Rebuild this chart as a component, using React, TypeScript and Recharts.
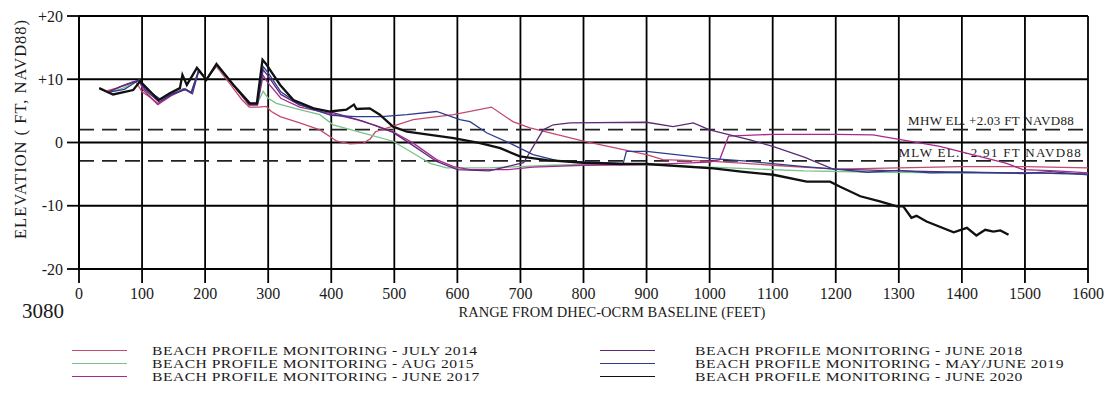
import { LineChart, Line, XAxis, YAxis, ReferenceLine } from 'recharts'

type Pt = [number, number]

// range (ft) / elevation (ft NAVD88) pairs
const july2014: Pt[] = [
  [45, 8.2], [60, 8.6], [75, 9.2], [90, 9.6], [100, 8.0], [112, 7.2], [125, 6.2], [140, 7.2], [155, 7.9],
  [165, 8.5], [178, 7.9], [190, 11.4], [202, 10.0], [218, 12.0], [240, 9.2], [258, 6.8], [270, 5.6],
  [285, 5.6], [297, 5.7], [305, 4.9], [319, 4.1], [350, 3.1], [382, 2.0], [409, 0.2], [430, -0.2],
  [451, -0.1], [462, 0.6], [470, 1.7], [504, 2.8], [530, 3.6], [594, 4.4], [654, 5.6], [688, 3.3],
  [715, 2.3], [800, 0.2], [900, -1.9], [926, -2.7], [1006, -3.0], [1100, -3.6], [1200, -4.2],
  [1300, -4.0], [1400, -3.8], [1500, -3.8], [1600, -4.0],
]
const aug2015: Pt[] = [
  [50, 8.0], [70, 8.6], [92, 9.8], [100, 9.0], [110, 7.8], [128, 6.6], [150, 7.8], [165, 8.4], [178, 8.0],
  [190, 11.4], [202, 10.0], [218, 12.1], [245, 9.0], [268, 6.2], [282, 6.0], [292, 8.1], [300, 7.0],
  [313, 6.2], [350, 5.2], [382, 4.4], [403, 2.8], [451, 1.5], [498, 0.2], [530, -1.7], [557, -3.3],
  [583, -4.0], [650, -4.0], [750, -3.6], [850, -3.3], [950, -3.7], [1050, -4.1], [1150, -4.5],
  [1270, -4.7], [1400, -4.8], [1500, -4.8], [1600, -5.0],
]
const june2017: Pt[] = [
  [45, 7.9], [65, 8.8], [85, 9.6], [95, 9.8], [102, 8.3], [125, 6.0], [148, 7.5], [168, 8.4], [178, 7.8],
  [190, 11.2], [202, 10.0], [218, 12.2], [245, 9.0], [270, 5.9], [283, 5.9], [292, 10.6], [300, 9.4],
  [320, 7.0], [350, 5.6], [398, 4.6], [440, 3.6], [470, 2.7], [498, 1.7], [530, -0.1], [567, -2.7],
  [594, -3.8], [620, -4.3], [680, -4.3], [720, -3.9], [800, -3.6], [900, -3.5], [1000, -3.1],
  [1016, -2.7], [1030, 1.0], [1100, 1.3], [1200, 1.3], [1259, 1.2], [1365, -0.6], [1471, -3.3],
  [1497, -4.3], [1550, -4.5], [1600, -4.8],
]
const june2018: Pt[] = [
  [48, 8.1], [68, 8.9], [88, 9.6], [96, 9.9], [104, 8.4], [127, 6.4], [150, 7.7], [168, 8.5], [178, 7.9],
  [190, 11.5], [202, 10.0], [218, 12.3], [245, 9.1], [270, 6.0], [283, 6.0], [292, 11.5], [300, 10.5],
  [320, 7.6], [350, 5.9], [400, 4.8], [450, 3.4], [498, 1.6], [530, -0.5], [567, -3.0], [600, -4.3],
  [650, -4.5], [705, -3.2], [736, 2.0], [752, 2.8], [779, 3.1], [900, 3.2], [942, 2.5], [974, 3.1],
  [1000, 2.0], [1032, 1.2], [1064, 0.4], [1100, -0.6], [1150, -2.3], [1196, -4.2], [1300, -4.5],
  [1400, -4.7], [1500, -4.8], [1600, -5.0],
]
const may2019: Pt[] = [
  [50, 8.0], [72, 8.4], [94, 9.8], [106, 8.4], [130, 6.8], [150, 7.8], [170, 8.4], [180, 7.7], [190, 11.5],
  [202, 10.0], [218, 12.4], [245, 9.0], [270, 6.2], [283, 6.2], [292, 12.0], [300, 11.0], [320, 8.0],
  [350, 6.0], [372, 5.2], [400, 4.3], [440, 4.1], [480, 4.1], [520, 4.4], [567, 4.9], [604, 3.6],
  [620, 3.3], [647, 1.5], [683, -0.1], [720, -1.9], [760, -2.9], [863, -3.3], [868, -1.4], [900, -1.4],
  [1000, -2.5], [1064, -3.0], [1150, -3.8], [1200, -4.2], [1250, -4.7], [1300, -4.4], [1350, -4.8],
  [1400, -4.7], [1450, -4.8], [1500, -4.9], [1540, -4.6], [1600, -5.1],
]
const june2020: Pt[] = [
  [32, 8.6], [54, 7.6], [86, 8.3], [97, 9.7], [126, 6.7], [144, 7.8], [160, 8.6], [164, 10.7], [171, 9.1],
  [187, 11.8], [202, 9.9], [218, 12.4], [245, 9.1], [271, 6.2], [282, 6.2], [291, 13.1], [296, 12.5],
  [319, 9.1], [340, 6.7], [372, 5.4], [398, 4.9], [424, 5.2], [436, 6.0], [440, 5.3], [461, 5.4],
  [477, 4.4], [498, 2.5], [520, 1.7], [557, 1.2], [594, 0.7], [636, -0.1], [668, -0.9], [699, -2.2],
  [742, -2.8], [800, -3.2], [858, -3.4], [900, -3.4], [1006, -4.1], [1050, -4.6], [1101, -5.1],
  [1154, -6.2], [1191, -6.2], [1207, -7.0], [1239, -8.5], [1270, -9.3], [1297, -10.1], [1307, -10.1],
  [1320, -11.9], [1328, -11.6], [1344, -12.5], [1387, -14.2], [1408, -13.5], [1423, -14.7],
  [1437, -13.8], [1450, -14.1], [1461, -13.9], [1474, -14.6],
]

const xTicks = [0, 100, 200, 300, 400, 500, 600, 700, 800, 900, 1000, 1100, 1200, 1300, 1400, 1500, 1600]
const yTicks = [-20, -10, 0, 10, 20]
const mhw = 2.03
const mlw = -2.91

const series = [
  { name: 'BEACH PROFILE MONITORING - JULY 2014', color: '#c24a6c', width: 1.3, points: july2014 },
  { name: 'BEACH PROFILE MONITORING - AUG 2015', color: '#79c28a', width: 1.3, points: aug2015 },
  { name: 'BEACH PROFILE MONITORING - JUNE 2017', color: '#a8288e', width: 1.3, points: june2017 },
  { name: 'BEACH PROFILE MONITORING - JUNE 2018', color: '#5b2b76', width: 1.3, points: june2018 },
  { name: 'BEACH PROFILE MONITORING - MAY/JUNE 2019', color: '#2d3c8e', width: 1.3, points: may2019 },
  { name: 'BEACH PROFILE MONITORING - JUNE 2020', color: '#111111', width: 2.3, points: june2020 },
]

const serif = 'Liberation Serif, Tinos, Times New Roman, Times, DejaVu Serif, serif'
const ink = '#1a1a1a'

function tideLabel(text: string, dx: number, dy: number, spacing: number) {
  // eslint-disable-next-line @typescript-eslint/no-explicit-any
  return (props: any) => {
    const vb = props.viewBox || {}
    if (vb.x == null) return null
    return (
      <text
        x={vb.x + vb.width - dx}
        y={vb.y - dy}
        textAnchor="end"
        style={{ fontFamily: serif, letterSpacing: spacing }}
        fontSize={13}
        fill={ink}
      >
        {text}
      </text>
    )
  }
}

export default function App() {
  const left = series.slice(0, 3)
  const right = series.slice(3)

  return (
    <div style={{ position: 'relative', width: 1104, height: 392, fontFamily: serif, color: ink }}>
      <LineChart width={1100} height={310} margin={{ top: 8, right: 20, left: 11, bottom: 9 }} style={{ fontFamily: serif }}>
        {xTicks.map((t) => (
          <ReferenceLine key={`gx${t}`} x={t} stroke="#000" strokeWidth={1.8} />
        ))}
        {yTicks.map((t) => (
          <ReferenceLine key={`gy${t}`} y={t} stroke="#000" strokeWidth={1.8} />
        ))}
        <XAxis
          type="number"
          dataKey="x"
          domain={[0, 1600]}
          ticks={xTicks}
          interval={0}
          height={40}
          stroke="#000"
          strokeWidth={1.8}
          tickSize={14}
          tickMargin={5}
          tick={{ fontSize: 16, fill: ink, style: { fontFamily: serif } }}
          allowDataOverflow
        />
        <YAxis
          type="number"
          domain={[-20, 20]}
          ticks={yTicks}
          interval={0}
          width={60}
          stroke="#000"
          strokeWidth={1.8}
          tickSize={12}
          tickMargin={4}
          tick={{ fontSize: 16, fill: ink, style: { fontFamily: serif } }}
          tickFormatter={(v: number) => (v > 0 ? `+${v}` : String(v))}
          label={{
            content: () => (
              <text
                x={12}
                y={121}
                transform="rotate(-90 12 121)"
                textAnchor="middle"
                dominantBaseline="central"
                style={{ fontFamily: serif, letterSpacing: 1 }}
                fontSize={16.5}
                fill={ink}
              >
                ELEVATION ( FT, NAVD88)
              </text>
            ),
          }}
        />
        <ReferenceLine
          y={mhw}
          stroke="#222"
          strokeWidth={1.7}
          strokeDasharray="15 8"
          label={{ content: tideLabel('MHW EL. +2.03 FT NAVD88', 14, 5, 0.3) }}
        />
        <ReferenceLine
          y={mlw}
          stroke="#222"
          strokeWidth={1.7}
          strokeDasharray="15 8"
          label={{ content: tideLabel('MLW EL. -2.91 FT NAVD88', 6, 4, 1.3) }}
        />
        {series.map((s) => (
          <Line
            key={s.name}
            data={s.points.map(([x, y]) => ({ x, y }))}
            dataKey="y"
            type="linear"
            stroke={s.color}
            strokeWidth={s.width}
            dot={false}
            activeDot={false}
            isAnimationActive={false}
          />
        ))}
      </LineChart>

      <div style={{ position: 'absolute', left: 14, top: 292, fontSize: 21, lineHeight: '22px' }}>3080</div>
      <div
        style={{
          position: 'absolute',
          left: 0,
          width: 1208,
          top: 296,
          textAlign: 'center',
          fontSize: 14.5,
          lineHeight: '17px',
        }}
      >
        RANGE FROM DHEC-OCRM BASELINE (FEET)
      </div>

      {[left, right].map((col, ci) => (
        <div key={ci} style={{ position: 'absolute', left: ci === 0 ? 64 : 592, top: 336 }}>
          {col.map((s) => (
            <div key={s.name} style={{ display: 'flex', alignItems: 'center', height: 13, fontSize: 13, lineHeight: '13px' }}>
              <div style={{ width: 55, flex: 'none', borderTop: `1.5px solid ${s.color}`, marginRight: ci === 0 ? 25 : 40 }} />
              <span
                style={{
                  whiteSpace: 'nowrap',
                  letterSpacing: 0.4,
                  display: 'inline-block',
                  transform: 'scaleX(1.2)',
                  transformOrigin: 'left center',
                }}
              >
                {s.name}
              </span>
            </div>
          ))}
        </div>
      ))}
    </div>
  )
}
